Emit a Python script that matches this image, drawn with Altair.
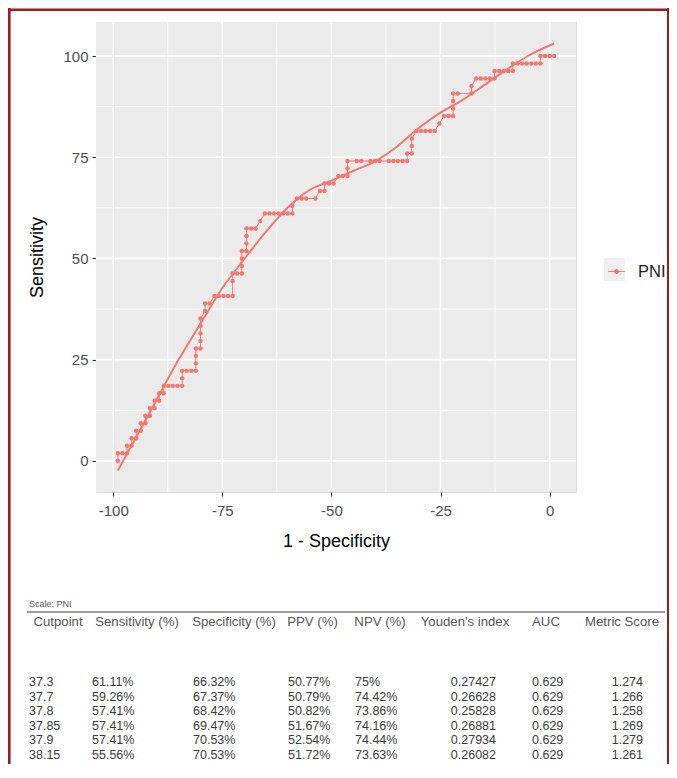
import altair as alt
import pandas as pd

# ---------------- data ----------------
# ROC step path: count of false positives (of 95 negatives) and true positives (of 54 positives)
fp_counts = [1, 1, 2, 3, 3, 4, 4, 5, 5, 6,
             6, 7, 7, 8, 8, 9, 9, 10, 10, 11,
             11, 12, 13, 14, 15, 15, 15, 16, 17, 18,
             18, 18, 18, 19, 19, 19, 19, 19, 20, 20,
             21, 22, 23, 24, 25, 26, 26, 26, 27, 28,
             28, 28, 28, 29, 29, 29, 29, 30, 31, 32,
             33, 34, 35, 36, 37, 38, 39, 39, 40, 41,
             42, 44, 45, 46, 46, 47, 48, 49, 50, 51,
             51, 51, 53, 54, 56, 57, 58, 60, 61, 62,
             63, 64, 64, 65, 65, 65, 66, 67, 68, 69,
             70, 71, 72, 73, 74, 74, 74, 74, 75, 78,
             78, 79, 80, 81, 82, 83, 83, 84, 85, 86,
             87, 87, 88, 89, 90, 91, 92, 93, 93, 94,
             95, 96]
tp_counts = [0, 1, 1, 1, 2, 2, 3, 3, 4, 4,
             5, 5, 6, 6, 7, 7, 8, 8, 9, 9,
             10, 10, 10, 10, 10, 11, 12, 12, 12, 12,
             13, 14, 15, 15, 16, 17, 18, 19, 20, 21,
             21, 22, 22, 22, 22, 22, 24, 25, 25, 25,
             26, 27, 28, 28, 29, 30, 31, 31, 31, 32,
             33, 33, 33, 33, 33, 33, 33, 34, 35, 35,
             35, 35, 36, 36, 37, 37, 37, 38, 38, 38,
             39, 40, 40, 40, 40, 40, 40, 40, 40, 40,
             40, 40, 41, 41, 42, 43, 44, 44, 44, 44,
             44, 45, 46, 46, 46, 47, 48, 49, 49, 49,
             50, 51, 51, 51, 51, 51, 52, 52, 52, 52,
             52, 53, 53, 53, 53, 53, 53, 53, 54, 54,
             54, 54]
N_NEG = 95
N_POS = 54

# smoothed curve
smooth_x = [-98.95, -92, -85, -80, -75, -70, -65, -60, -55, -50,
            -45, -40, -35, -30, -25, -20, -15, -10, -5, 1.05]
smooth_y = [-2.4, 11.2, 25.0, 33.9, 42.7, 49.8, 56.6, 62.6, 66.9, 69.2,
            71.6, 74.0, 77.6, 82.2, 86.0, 89.1, 92.8, 96.5, 100.0, 103.1]

x_ticks = [-100, -75, -50, -25, 0]
y_ticks = [0, 25, 50, 75, 100]
x_minor = [-87.5, -62.5, -37.5, -12.5]
y_minor = [12.5, 37.5, 62.5, 87.5]

series_name = "PNI"

# table
table_caption = "Scale: PNI"
headers = ["Cutpoint", "Sensitivity (%)", "Specificity (%)", "PPV (%)", "NPV (%)",
           "Youden's index", "AUC", "Metric Score"]
cutpoint = ["37.3", "37.7", "37.8", "37.85", "37.9", "38.15"]
sensitivity = ["61.11%", "59.26%", "57.41%", "57.41%", "57.41%", "55.56%"]
specificity = ["66.32%", "67.37%", "68.42%", "69.47%", "70.53%", "70.53%"]
ppv = ["50.77%", "50.79%", "50.82%", "51.67%", "52.54%", "51.72%"]
npv = ["75%", "74.42%", "73.86%", "74.16%", "74.44%", "73.63%"]
youden = ["0.27427", "0.26628", "0.25828", "0.26881", "0.27934", "0.26082"]
auc = ["0.629", "0.629", "0.629", "0.629", "0.629", "0.629"]
metric = ["1.274", "1.266", "1.258", "1.269", "1.279", "1.261"]

# ---------------- layout / style ----------------
W, H = 480, 470
RED = "#F8766D"
FONT = "Liberation Sans"

roc_df = pd.DataFrame({
    "one_minus_spec": [-100 + f * 100 / N_NEG for f in fp_counts],
    "sens": [t * 100 / N_POS for t in tp_counts],
    "idx": list(range(len(fp_counts))),
    "series": series_name,
})
smooth_df = pd.DataFrame({"one_minus_spec": smooth_x, "sens": smooth_y})

xs = alt.Scale(domain=[-103.95, 6.05], nice=False, zero=False)
ys = alt.Scale(domain=[-7.7, 108.4], nice=False, zero=False)

common_axis = dict(grid=False, domain=False,
                   ticks=True, tickColor="#333333", tickSize=4, tickWidth=1.1,
                   labelColor="#4D4D4D", labelFontSize=15, labelFont=FONT,
                   labelExpr="'' + datum.value",
                   titleFontSize=18, titleColor="black", titleFontWeight="normal",
                   titleFont=FONT)
x_axis = alt.Axis(values=x_ticks, title="1 - Specificity", labelPadding=7,
                  titlePadding=14, **common_axis)
y_axis = alt.Axis(values=y_ticks, title="Sensitivity", labelPadding=4,
                  titlePadding=16, **common_axis)

X = lambda f: alt.X(f, scale=xs, axis=x_axis)
Y = lambda f: alt.Y(f, scale=ys, axis=y_axis)

one = pd.DataFrame({"k": [0]})
panel_bg = alt.Chart(one).mark_rect(color="#EBEBEB").encode(
    x=alt.value(0), x2=alt.value(W), y=alt.value(0), y2=alt.value(H))

minor_x = alt.Chart(pd.DataFrame({"v": x_minor})).mark_rule(
    color="white", strokeWidth=0.8).encode(x=X("v:Q"))
minor_y = alt.Chart(pd.DataFrame({"v": y_minor})).mark_rule(
    color="white", strokeWidth=0.8).encode(y=Y("v:Q"))
major_x = alt.Chart(pd.DataFrame({"v": x_ticks})).mark_rule(
    color="white", strokeWidth=1.6).encode(x=X("v:Q"))
major_y = alt.Chart(pd.DataFrame({"v": y_ticks})).mark_rule(
    color="white", strokeWidth=1.6).encode(y=Y("v:Q"))

step_line = alt.Chart(roc_df).mark_line(color=RED, strokeWidth=1).encode(
    x=X("one_minus_spec:Q"), y=Y("sens:Q"), order=alt.Order("idx:Q"))

legend_path = ("M-1,-0.075 L1,-0.075 L1,0.075 L-1,0.075 Z "
               "M0.3,0 A0.3,0.3 0 1,1 -0.3,0 A0.3,0.3 0 1,1 0.3,0 Z")
step_points = alt.Chart(roc_df).mark_point(filled=True, size=20, opacity=1).encode(
    x=X("one_minus_spec:Q"), y=Y("sens:Q"),
    color=alt.Color("series:N", scale=alt.Scale(domain=[series_name], range=[RED]),
                    legend=alt.Legend(title=None, orient="none", legendX=512, legendY=241,
                                      symbolType=legend_path, symbolSize=276,
                                      symbolStrokeWidth=0, symbolOpacity=1,
                                      labelFontSize=16.5, labelFont=FONT,
                                      labelColor="#1a1a1a", labelOffset=13,
                                      padding=0)))

smooth = alt.Chart(smooth_df).mark_line(color=RED, strokeWidth=2,
                                        interpolate="monotone").encode(
    x=X("one_minus_spec:Q"), y=Y("sens:Q"))

plot = alt.layer(minor_x, minor_y, major_x, major_y, step_line, step_points, smooth)

# ---------------- table ----------------
row_scale = alt.Scale(domain=[-2, -1, 0, 5], range=[582, 600, 660, 732.5],
                      nice=False, zero=False)
left_cols = [0, 1, 2, 3, 4, 6]
left_scale = alt.Scale(domain=left_cols, range=[-67, -4, 97, 192, 259, 436],
                       nice=False, zero=False)
right_cols = [5, 7]
right_scale = alt.Scale(domain=right_cols, range=[400, 547], nice=False, zero=False)
head_scale = alt.Scale(domain=list(range(8)),
                       range=[-38, 41, 138, 216.5, 284, 369, 450, 526],
                       nice=False, zero=False)

columns = [cutpoint, sensitivity, specificity, ppv, npv, youden, auc, metric]
cells = []
for c, vals in enumerate(columns):
    for r, v in enumerate(vals):
        cells.append({"col": c, "row": r, "txt": v})
cells_df = pd.DataFrame(cells)
left_df = cells_df[cells_df["col"].isin(left_cols)]
right_df = cells_df[cells_df["col"].isin(right_cols)]
head_df = pd.DataFrame({"col": list(range(8)), "row": -1, "txt": headers})
cap_df = pd.DataFrame({"col": [0], "row": [-2], "txt": [table_caption]})

cap_layer = alt.Chart(cap_df).mark_text(align="left", baseline="middle", fontSize=9,
                                         font=FONT, color="#555555").encode(
    x=alt.X("col:Q", scale=left_scale, axis=None),
    y=alt.Y("row:Q", scale=row_scale, axis=None), text="txt:N")
head_layer = alt.Chart(head_df).mark_text(align="center", baseline="middle", fontSize=13.2,
                                           font=FONT, color="#555555").encode(
    x=alt.X("col:Q", scale=head_scale, axis=None),
    y=alt.Y("row:Q", scale=row_scale, axis=None), text="txt:N")
left_layer = alt.Chart(left_df).mark_text(align="left", baseline="middle", fontSize=12.5,
                                           font=FONT, color="#3b3b3b").encode(
    x=alt.X("col:Q", scale=left_scale, axis=None),
    y=alt.Y("row:Q", scale=row_scale, axis=None), text="txt:N")
right_layer = alt.Chart(right_df).mark_text(align="right", baseline="middle", fontSize=12.5,
                                             font=FONT, color="#3b3b3b").encode(
    x=alt.X("col:Q", scale=right_scale, axis=None),
    y=alt.Y("row:Q", scale=row_scale, axis=None), text="txt:N")

table = alt.layer(cap_layer, head_layer, left_layer, right_layer).resolve_scale(
    x="independent", y="independent")

# ---------------- decorations ----------------
BORDER = "#9E1B1E"
header_rule = alt.Chart(one).mark_rule(color="#7a7a7a", strokeWidth=1.6).encode(
    x=alt.value(-69), x2=alt.value(569), y=alt.value(590))
border_left = alt.Chart(one).mark_rule(color=BORDER, strokeWidth=2.6).encode(
    x=alt.value(-86.7), y=alt.value(-14), y2=alt.value(745))
border_top = alt.Chart(one).mark_rule(color=BORDER, strokeWidth=2.6).encode(
    x=alt.value(-88), x2=alt.value(574), y=alt.value(-12.3))
border_right = alt.Chart(one).mark_rule(color=BORDER, strokeWidth=2.4).encode(
    x=alt.value(572.2), y=alt.value(-14), y2=alt.value(745))
key_bg = alt.Chart(one).mark_rect(color="#EFEFEF").encode(
    x=alt.value(508), x2=alt.value(529), y=alt.value(236), y2=alt.value(259))

chart = alt.layer(panel_bg, key_bg, plot, table, header_rule, border_left, border_top,
                  border_right).resolve_scale(
    x="independent", y="independent", color="independent"
).properties(
    width=W, height=H,
    autosize=alt.AutoSizeParams(type="none"),
    padding={"left": 88, "top": 14, "right": 93, "bottom": 272},
).configure_view(strokeWidth=0).configure(font=FONT, background="white")

chart.save("out.html", embed_options={"renderer": "svg", "actions": False})
